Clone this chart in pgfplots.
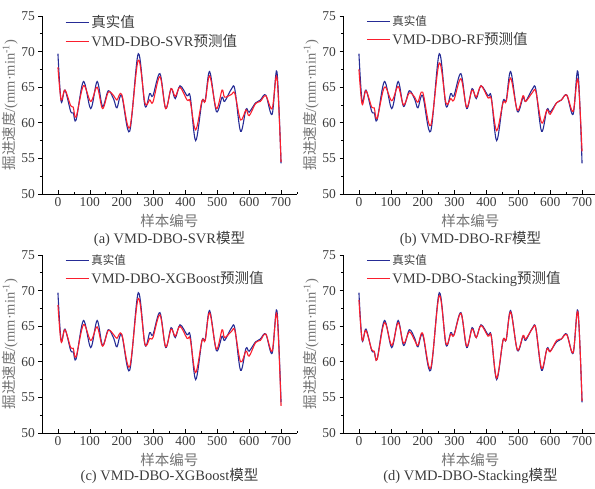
\documentclass[border=0pt]{standalone}
\usepackage{pgfplots}
\usepackage{pgfplotstable}
\pgfplotsset{compat=1.18}
\usepackage{fontspec}
\setmainfont{Liberation Serif}
\newfontfamily\cjk{Noto Sans CJK SC}
\definecolor{trueblue}{RGB}{38,44,150}
\definecolor{predred}{RGB}{250,30,45}
\definecolor{txtgray}{RGB}{60,60,60}
\definecolor{cjkgray}{RGB}{115,115,115}

\pgfplotstableread{
x   tru   svr   rf    xgb   stk
0   69.7  67.8  67.5  68.0  68.7
10  63.0  63.2  62.6  62.8  63.1
22  64.6  64.6  64.5  64.5  64.4
40  61.6  62.4  62.2  62.0  61.7
48  61.4  62.2  62.1  61.9  61.5
57  60.4  60.8  60.6  60.7  60.3
80  65.8  65.2  65.0  65.2  65.5
103 62.0  63.0  63.1  63.0  62.3
123 65.8  65.0  65.1  64.9  65.5
140 62.3  62.0  62.5  62.2  62.6
158 64.5  64.3  64.2  64.4  64.2
175 63.3  63.8  63.6  63.8  63.0
185 62.1  63.2  62.9  63.3  62.3
200 63.8  64.0  64.3  63.9  64.0
225 58.8  59.3  59.6  59.3  59.1
252 69.7  68.8  68.4  68.9  69.3
273 62.4  62.8  62.8  62.5  62.6
288 64.1  63.2  63.4  63.3  63.9
298 63.8  62.9  63.2  63.4  63.7
320 66.9  66.5  66.2  66.6  66.8
338 62.0  62.0  62.2  62.1  62.2
355 64.8  64.8  64.6  64.6  64.6
368 63.4  63.7  63.6  63.6  63.4
383 65.2  65.0  65.2  65.0  65.1
405 63.8  63.2  63.5  63.3  63.6
415 63.7  63.0  63.4  63.2  63.6
432 57.5  59.0  58.9  58.5  57.7
452 63.0  63.1  62.8  63.0  63.0
462 63.1  63.0  63.0  63.0  63.1
476 67.2  66.6  66.3  66.9  67.0
497 61.6  62.0  61.8  61.8  61.7
515 63.6  64.6  63.8  64.5  63.7
523 63.0  63.6  63.0  63.4  63.2
545 64.8  64.0  64.3  64.3  64.7
555 64.7  64.1  64.4  64.4  64.7
573 58.8  60.4  60.0  60.0  59.1
590 61.9  61.8  61.8  61.5  61.8
600 61.5  61.0  61.2  60.8  61.4
620 62.8  62.7  62.8  62.7  63.0
635 63.2  63.0  63.2  63.0  63.2
652 63.9  63.8  63.9  63.9  63.8
672 61.2  62.0  61.6  61.5  61.3
687 67.2  66.4  66.1  66.7  67.0
700 54.3  54.5  56.0  53.8  54.5
}\datatable

\pgfplotsset{
  panel/.style={
    scale only axis, width=255pt, height=178pt,
    xmin=-50, xmax=750, ymin=50, ymax=75,
    axis x line=bottom, axis y line=left,
    axis line style={-, black, line width=0.8pt},
    xtick={0,100,...,700}, minor xtick={50,150,...,750},
    ytick={50,55,...,75}, minor ytick={52.5,57.5,...,72.5},
    x tick style={black, line width=0.6pt}, y tick style={black, line width=0.6pt},
    xtick align=inside, ytick align=outside,
    major tick length=3.5pt, minor tick length=2pt,
    tick label style={font=\fontsize{13.5}{14}\selectfont, text=txtgray},
    /pgf/number format/assume math mode=true,
    xlabel={\cjk 样本编号},
    ylabel={{\cjk 掘进速度}/(mm·min\textsuperscript{-1})},
    label style={font=\fontsize{14.5}{15}\selectfont, text=cjkgray},
    xlabel style={yshift=-1pt},
    ylabel style={yshift=-3pt},
    legend style={draw=none, fill=none, at={(0.09,1.015)}, anchor=north west,
      inner sep=0pt, row sep=1.5pt, font=\fontsize{14.5}{15}\selectfont, text=txtgray},
    legend cell align=left,
    legend image code/.code={\draw[##1, line width=1.2pt] (0pt,0pt) -- (23pt,0pt);},
    clip=false,
  },
  tline/.style={trueblue, line width=1.1pt, smooth, tension=0.55},
  pline/.style={predred, line width=1.1pt, smooth, tension=0.55},
}

\newcommand{\caplabel}[2]{\node[font=\fontsize{14.5}{16}\selectfont, text=txtgray, anchor=base, inner sep=0pt] at (rel axis cs:0.5,0) [yshift=#1] {#2};}

\begin{document}
\begin{tikzpicture}
\path[use as bounding box] (0,0) rectangle (595pt,488pt);

\begin{axis}[panel, at={(42pt,472pt)}, anchor=north west]
\addplot[tline] table[x=x, y=tru] {\datatable};
\addplot[pline] table[x=x, y=svr] {\datatable};
\legend{{\cjk 真实值}, {VMD-DBO-SVR\cjk 预测值}}
\caplabel{-50pt}{(a) VMD-DBO-SVR{\cjk 模型}}
\end{axis}

\begin{axis}[panel, at={(343pt,472pt)}, anchor=north west]
\addplot[tline] table[x=x, y=tru] {\datatable};
\addplot[pline] table[x=x, y=rf] {\datatable};
\legend{{\cjk\fontsize{11.5}{12}\selectfont 真实值}, {VMD-DBO-RF\cjk 预测值}}
\caplabel{-50pt}{(b) VMD-DBO-RF{\cjk 模型}}
\end{axis}

\begin{axis}[panel, at={(42pt,233pt)}, anchor=north west]
\addplot[tline] table[x=x, y=tru] {\datatable};
\addplot[pline] table[x=x, y=xgb] {\datatable};
\legend{{\cjk\fontsize{11.5}{12}\selectfont 真实值}, {VMD-DBO-XGBoost\cjk 预测值}}
\caplabel{-48pt}{(c) VMD-DBO-XGBoost{\cjk 模型}}
\end{axis}

\begin{axis}[panel, at={(343pt,233pt)}, anchor=north west]
\addplot[tline] table[x=x, y=tru] {\datatable};
\addplot[pline] table[x=x, y=stk] {\datatable};
\legend{{\cjk\fontsize{11.5}{12}\selectfont 真实值}, {VMD-DBO-Stacking\cjk 预测值}}
\caplabel{-48pt}{(d) VMD-DBO-Stacking{\cjk 模型}}
\end{axis}
\end{tikzpicture}
\end{document}
